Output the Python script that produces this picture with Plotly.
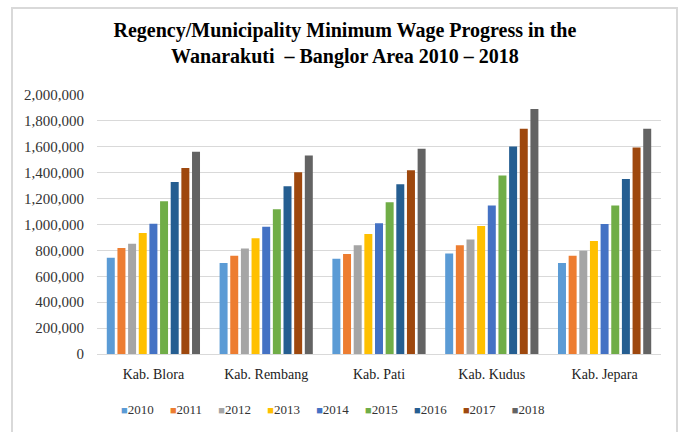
import plotly.graph_objects as go

categories = ["Kab. Blora", "Kab. Rembang", "Kab. Pati", "Kab. Kudus", "Kab. Jepara"]
years = ["2010", "2011", "2012", "2013", "2014", "2015", "2016", "2017", "2018"]

v2010 = [743000, 702000, 735000, 777000, 702000]
v2011 = [818000, 759000, 772000, 839000, 759000]
v2012 = [852000, 815000, 839000, 885000, 797000]
v2013 = [934000, 893000, 926000, 988000, 872000]
v2014 = [1006000, 983000, 1009000, 1146000, 1004000]
v2015 = [1179000, 1117000, 1172000, 1378000, 1146000]
v2016 = [1329000, 1295000, 1311000, 1603000, 1352000]
v2017 = [1437000, 1404000, 1419000, 1739000, 1595000]
v2018 = [1561000, 1533000, 1585000, 1892000, 1739000]
series = [v2010, v2011, v2012, v2013, v2014, v2015, v2016, v2017, v2018]

colors = ["#5B9BD5", "#ED7D31", "#A5A5A5", "#FFC000", "#4472C4",
          "#70AD47", "#255E91", "#9E480E", "#636363"]

tickvals = [0, 200000, 400000, 600000, 800000, 1000000, 1200000,
            1400000, 1600000, 1800000, 2000000]
ticktext = ["0", "200,000", "400,000", "600,000", "800,000", "1,000,000",
            "1,200,000", "1,400,000", "1,600,000", "1,800,000", "2,000,000"]

FONT = "Liberation Serif, Times New Roman, serif"

fig = go.Figure()
for y, vals, c in zip(years, series, colors):
    fig.add_trace(go.Bar(name=y, x=categories, y=vals, marker_color=c,
                         marker_line_width=0, showlegend=False))

# legend drawn as a single text line of coloured squares + year labels
legend_text = "&nbsp;&nbsp;&nbsp;&nbsp;&nbsp;".join(
    f"<span style='color:{c};font-size:11px'>■</span>{y}"
    for y, c in zip(years, colors)
)

fig.update_layout(
    width=679, height=432,
    margin=dict(l=97, r=18, t=95, b=78, autoexpand=False),
    paper_bgcolor="white", plot_bgcolor="white",
    barmode="group", bargap=0.15, bargroupgap=0.25,
    font=dict(family=FONT, size=14, color="#333333"),
    title=dict(
        text="Regency/Municipality Minimum Wage Progress in the<br>Wanarakuti  – Banglor Area 2010 – 2018",
        x=0.508, xanchor="center", y=0.915, yanchor="middle",
        font=dict(family=FONT, size=20, color="#000000", weight="bold"),
    ),
    showlegend=False,
    annotations=[dict(
        text=legend_text, xref="paper", yref="paper",
        x=0.418, y=-0.216, xanchor="center", yanchor="middle",
        showarrow=False, font=dict(family=FONT, size=13, color="#333333"),
    )],
)
fig.update_yaxes(range=[0, 2000000], tickvals=tickvals, ticktext=ticktext,
                 showgrid=True, gridcolor="#D9D9D9", gridwidth=1,
                 zeroline=True, zerolinecolor="#D9D9D9", zerolinewidth=1,
                 showline=False, ticklabelstandoff=12, fixedrange=True,
                 automargin=False,
                 tickfont=dict(family=FONT, size=15, color="#333333"))
fig.update_xaxes(showline=False, ticklabelstandoff=10, tickangle=0,
                 automargin=False,
                 tickfont=dict(family=FONT, size=14, color="#222222"))

fig.add_shape(type="rect", xref="paper", yref="paper",
              x0=-0.1507, x1=1.0284, y0=-0.34, y1=1.336,
              line=dict(color="#D9D9D9", width=2), fillcolor="rgba(0,0,0,0)",
              layer="below")

fig.write_html("out.html", config={"displayModeBar": False},
               post_script="document.body.style.margin='0';document.body.style.overflow='hidden';")
